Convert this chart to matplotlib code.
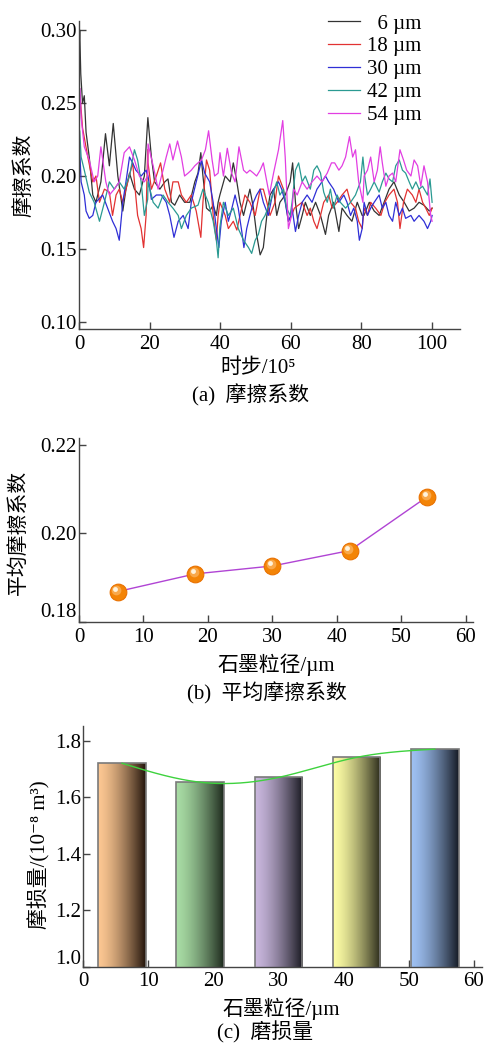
import numpy as np
import matplotlib
matplotlib.use('Agg')
import matplotlib.pyplot as plt
import matplotlib.transforms as mtransforms

plt.rcParams['font.family'] = ['Liberation Serif', 'DejaVu Serif', 'Noto Sans CJK SC']
plt.rcParams['font.size'] = 15
plt.rcParams['axes.unicode_minus'] = False

# ---------------- data: (a) friction coefficient vs time step ----------------
black_x = [0, 0.2, 0.5, 1.0, 1.5, 2.0, 2.9, 3.9, 4.8, 6.2, 7.5, 8.6, 9.7, 11.0, 12.4, 13.3, 14.3, 15.7, 17.1, 18.5, 19.5,
           20.5, 21.4, 22.9, 24.3, 25.2, 26.2, 27.1, 28.5, 29.9, 31.4, 32.8, 33.7, 34.5, 35.1, 36.1, 37.0, 38.0, 38.9, 39.4,
           39.9, 41.4, 42.8, 43.7, 44.7, 45.6, 46.6, 47.5, 48.4, 49.4, 50.3, 51.3, 52.2, 53.2, 54.1, 55.1, 56.0, 56.9, 58.4, 59.8,
           60.5, 61.3, 62.2, 63.2, 64.1, 65.5, 67.0, 68.4, 69.8, 70.7, 72.1, 73.6, 74.5, 75.9, 77.3, 78.8, 80.2,
           80.7, 82.2, 83.6, 85.0, 86.4, 87.8, 89.2, 90.7, 92.1, 93.5, 94.9, 96.3, 97.7, 99.2, 100]
black_y = [0.285, 0.300, 0.270, 0.250, 0.255, 0.230, 0.213, 0.187, 0.182, 0.196, 0.229, 0.207, 0.236, 0.200, 0.176, 0.191, 0.202, 0.191, 0.187, 0.200, 0.240,
           0.213, 0.196, 0.191, 0.196, 0.198, 0.182, 0.180, 0.187, 0.182, 0.182, 0.196, 0.202, 0.216, 0.200, 0.178, 0.176, 0.180, 0.173, 0.182,
           0.187, 0.200, 0.196, 0.209, 0.196, 0.182, 0.173, 0.182, 0.191, 0.178, 0.160, 0.146, 0.151, 0.173, 0.187, 0.191, 0.173, 0.182, 0.187, 0.196,
           0.209, 0.182, 0.164, 0.173, 0.182, 0.173, 0.182, 0.173, 0.160, 0.173, 0.182, 0.162, 0.178, 0.173, 0.169, 0.182, 0.173,
           0.173, 0.182, 0.176, 0.173, 0.182, 0.191, 0.196, 0.187, 0.182, 0.176, 0.178, 0.182, 0.180, 0.176, 0.178]

red_x = [0, 0.3, 1.0, 2.5, 3.9, 4.8, 5.8, 7.2, 8.6, 9.5, 10.5, 11.4, 12.4, 13.3, 15.2, 16.6, 17.6, 18.3, 19.0, 19.45,
         19.55, 20.5, 21.9, 23.1, 24.3, 25.7, 26.6, 28.1, 29.0, 30.4, 31.8, 33.2, 34.5, 35.1, 36.1, 37.0, 38.0, 38.9, 39.4,
         39.9, 41.4, 42.3, 43.7, 44.7, 45.6, 47.0, 48.4, 49.9, 51.3, 52.2, 53.2, 54.1, 55.5, 56.5, 57.9, 59.3, 60.2,
         61.0, 63.2, 64.6, 65.5, 66.5, 67.4, 68.4, 69.3, 70.7, 71.7, 73.1, 74.5, 75.9, 76.9, 78.3, 79.2, 80.2,
         80.74, 81.7, 82.6, 84.0, 85.5, 86.6, 87.8, 89.2, 90.2, 90.9, 91.9, 93.0, 94.4, 95.4, 96.3, 97.3, 98.2, 99.2, 100]
red_y = [0.235, 0.255, 0.233, 0.213, 0.196, 0.200, 0.182, 0.191, 0.189, 0.173, 0.187, 0.191, 0.182, 0.191, 0.209, 0.173, 0.164, 0.151, 0.173, 0.218,
         0.209, 0.191, 0.200, 0.209, 0.191, 0.182, 0.196, 0.196, 0.187, 0.182, 0.187, 0.176, 0.158, 0.182, 0.211, 0.204, 0.173, 0.156, 0.173,
         0.182, 0.173, 0.164, 0.169, 0.163, 0.173, 0.187, 0.182, 0.173, 0.191, 0.191, 0.182, 0.173, 0.182, 0.200, 0.191, 0.169, 0.173,
         0.178, 0.182, 0.173, 0.178, 0.169, 0.164, 0.173, 0.182, 0.187, 0.178, 0.182, 0.187, 0.191, 0.182, 0.178, 0.169, 0.164,
         0.178, 0.173, 0.182, 0.178, 0.173, 0.182, 0.187, 0.191, 0.182, 0.164, 0.182, 0.191, 0.187, 0.182, 0.191, 0.182, 0.178, 0.173, 0.178]

blue_x = [0, 0.2, 0.6, 1.5, 2.0, 2.9, 3.9, 4.8, 6.7, 8.1, 9.5, 10.5, 11.4, 12.4, 13.3, 14.3, 15.2, 16.1, 17.6, 19.0,
          19.55, 20.5, 21.9, 23.3, 24.7, 25.7, 26.9, 28.1, 29.5, 30.9, 31.8, 33.2, 34.7, 35.6, 37.0, 38.0, 38.9, 39.6,
          40.3, 41.4, 42.3, 43.3, 44.2, 45.1, 46.1, 46.7, 47.5, 48.4, 49.4, 50.3, 51.3, 52.2, 53.6, 55.1, 56.5, 57.4, 58.4, 59.3, 60.0,
          60.34, 61.3, 62.2, 63.2, 64.6, 66.0, 67.4, 68.8, 69.8, 70.7, 72.1, 73.6, 75.0, 75.9, 76.9, 77.8, 78.8, 79.4, 80.2,
          80.74, 81.7, 82.6, 83.6, 85.0, 85.9, 86.9, 87.8, 88.8, 89.7, 90.7, 91.6, 92.5, 94.0, 94.9, 96.3, 97.7, 98.7, 99.6, 100]
blue_y = [0.200, 0.218, 0.196, 0.187, 0.176, 0.171, 0.173, 0.182, 0.187, 0.178, 0.169, 0.164, 0.156, 0.182, 0.196, 0.213, 0.209, 0.204, 0.200, 0.204,
          0.200, 0.184, 0.187, 0.187, 0.182, 0.173, 0.158, 0.169, 0.173, 0.164, 0.182, 0.196, 0.211, 0.202, 0.196, 0.182, 0.164, 0.151,
          0.169, 0.182, 0.169, 0.178, 0.187, 0.178, 0.162, 0.151, 0.164, 0.173, 0.182, 0.187, 0.191, 0.182, 0.173, 0.191, 0.196, 0.191, 0.182, 0.169, 0.173,
          0.178, 0.162, 0.173, 0.182, 0.187, 0.182, 0.191, 0.196, 0.200, 0.196, 0.191, 0.182, 0.187, 0.182, 0.173, 0.178, 0.169, 0.156, 0.164,
          0.182, 0.173, 0.178, 0.182, 0.187, 0.178, 0.182, 0.173, 0.169, 0.182, 0.173, 0.178, 0.171, 0.173, 0.169, 0.173, 0.169, 0.164, 0.169, 0.173]

teal_x = [0, 0.2, 0.6, 1.5, 2.9, 4.3, 5.8, 7.2, 8.6, 10.0, 11.4, 12.8, 14.3, 15.7, 16.6, 17.6, 18.5, 19.45,
          19.55, 21.0, 22.4, 23.8, 25.2, 26.6, 28.1, 29.0, 30.4, 31.8, 33.7, 35.1, 36.6, 38.0, 38.9, 39.4,
          39.9, 40.9, 42.3, 43.7, 45.1, 46.6, 48.0, 48.9, 49.9, 50.8, 51.7, 52.7, 54.1, 55.1, 56.0, 56.9, 57.9, 58.8, 59.8,
          60.34, 61.3, 62.2, 63.2, 64.1, 65.5, 66.5, 67.4, 68.4, 69.3, 70.3, 71.2, 72.1, 73.1, 74.0, 75.5, 76.9, 78.3, 79.7, 80.4, 80.9,
          81.7, 82.6, 83.6, 85.0, 85.9, 86.9, 87.8, 88.8, 89.7, 90.7, 91.6, 92.5, 93.5, 94.4, 95.4, 96.3, 97.3, 98.7, 99.4, 100]
teal_y = [0.220, 0.231, 0.213, 0.204, 0.189, 0.182, 0.169, 0.182, 0.196, 0.191, 0.196, 0.191, 0.200, 0.218, 0.211, 0.196, 0.173, 0.184,
          0.196, 0.182, 0.178, 0.187, 0.182, 0.178, 0.173, 0.164, 0.173, 0.178, 0.180, 0.191, 0.182, 0.169, 0.156, 0.144,
          0.165, 0.182, 0.173, 0.178, 0.164, 0.156, 0.151, 0.147, 0.156, 0.160, 0.169, 0.173, 0.182, 0.189, 0.196, 0.187, 0.191, 0.178, 0.173,
          0.182, 0.204, 0.209, 0.196, 0.200, 0.191, 0.204, 0.207, 0.202, 0.189, 0.182, 0.191, 0.178, 0.187, 0.182, 0.178, 0.182, 0.187, 0.196, 0.213, 0.200,
          0.187, 0.191, 0.196, 0.189, 0.196, 0.202, 0.198, 0.196, 0.207, 0.211, 0.204, 0.202, 0.196, 0.191, 0.196, 0.191, 0.193, 0.187, 0.198, 0.182]

mag_x = [0, 0.3, 0.6, 1.5, 2.9, 4.3, 5.3, 6.2, 7.6, 8.6, 10.0, 11.4, 12.8, 14.3, 15.7, 17.1, 18.5, 19.45,
         19.55, 21.0, 22.4, 23.8, 24.7, 25.7, 26.6, 27.9, 29.0, 29.9, 30.9, 31.8, 32.8, 33.7, 34.7, 35.8, 36.7, 37.7, 38.4, 39.4,
         39.94, 40.9, 42.0, 43.2, 44.2, 45.3, 46.6, 47.5, 48.4, 49.4, 50.3, 51.3, 52.2, 53.2, 53.9, 55.1, 56.5, 57.7, 58.4, 59.3, 60.2,
         60.8, 61.8, 63.2, 64.6, 66.0, 67.4, 68.8, 70.3, 71.5, 72.4, 73.6, 74.5, 75.5, 76.6, 77.5, 78.3, 79.2, 80.4,
         80.74, 81.7, 82.6, 83.6, 84.5, 85.3, 85.9, 86.9, 87.8, 88.8, 89.7, 90.9, 91.9, 92.8, 94.0, 94.9, 95.9, 96.8, 97.7, 98.7, 99.6, 100]
mag_y = [0.240, 0.260, 0.240, 0.220, 0.211, 0.196, 0.200, 0.220, 0.196, 0.187, 0.191, 0.196, 0.216, 0.220, 0.211, 0.200, 0.196, 0.200,
         0.222, 0.207, 0.191, 0.204, 0.213, 0.222, 0.211, 0.224, 0.213, 0.200, 0.202, 0.204, 0.207, 0.209, 0.211, 0.218, 0.231, 0.211, 0.200, 0.202,
         0.216, 0.200, 0.219, 0.202, 0.196, 0.220, 0.204, 0.202, 0.204, 0.202, 0.200, 0.204, 0.209, 0.196, 0.187, 0.202, 0.218, 0.238, 0.213, 0.164, 0.173,
         0.191, 0.187, 0.196, 0.191, 0.196, 0.200, 0.196, 0.202, 0.209, 0.209, 0.204, 0.207, 0.213, 0.227, 0.213, 0.218, 0.196, 0.182,
         0.200, 0.204, 0.213, 0.196, 0.204, 0.220, 0.209, 0.193, 0.200, 0.202, 0.196, 0.218, 0.211, 0.204, 0.200, 0.211, 0.207, 0.193, 0.207, 0.196, 0.173, 0.169]

series_labels = ['  6 \u00b5m', '18 \u00b5m', '30 \u00b5m', '42 \u00b5m', '54 \u00b5m']
series_colors = ['#333333', '#e23232', '#2f2fd6', '#2a9a92', '#e23ee2']

# ---------------- data: (b) mean friction coefficient, (c) wear ----------------
grain_size = [6, 18, 30, 42, 54]
mean_friction = [0.1868, 0.1908, 0.1926, 0.1961, 0.2083]
wear_volume = [1.720, 1.653, 1.670, 1.741, 1.770]
bar_light = ['#fcc792', '#a8dca4', '#c8b6dc', '#fcfca4', '#9ec0f2']
bar_dark = ['#24150c', '#1e2a1e', '#1a1a22', '#2a2a1a', '#161c26']

W, H = 488, 1044
fig = plt.figure(figsize=(W / 100, H / 100), dpi=100)


def fx(px):
    return px / W


def fy(py):
    return 1 - py / H


def style_axes(ax):
    for s in ['top', 'right']:
        ax.spines[s].set_visible(False)
    for s in ['left', 'bottom']:
        ax.spines[s].set_color('#444444')
        ax.spines[s].set_linewidth(1.0)
    ax.tick_params(direction='in', length=5, width=1, color='#444444', labelsize=15)
    ax.tick_params(axis='y', pad=1.5)
    ax.tick_params(axis='x', pad=4)


def set_yticks_lifted(ax, values, labels, lift_px):
    # lowest label sits a little above its tick, as in the reference
    ax.set_yticks(values)
    ax.set_yticklabels([''] + labels[1:])
    ax.annotate(labels[0], xy=(0, values[0]), xycoords=('axes fraction', 'data'),
                xytext=(-2, lift_px), textcoords='offset pixels',
                ha='right', va='center', fontsize=15, annotation_clip=False)


# ---- (a) ----
ax1 = fig.add_axes([fx(79), fy(329), fx(460 - 79), (329 - 21) / H])
xs_all = [black_x, red_x, blue_x, teal_x, mag_x]
ys_all = [black_y, red_y, blue_y, teal_y, mag_y]
handles = []
for xs, ys, c, lab in zip(xs_all, ys_all, series_colors, series_labels):
    ln, = ax1.plot(xs, ys, color=c, lw=0.9, label=lab)
    handles.append(ln)
ax1.set_xlim(0, 107.9)
ax1.set_ylim(0.0952, 0.3062)
ax1.set_xticks([0, 20, 40, 60, 80, 100])
ax1.set_yticks([0.10, 0.15, 0.20, 0.25, 0.30])
ax1.set_yticklabels(['0.10', '0.15', '0.20', '0.25', '0.30'])
style_axes(ax1)
ax1.legend(handles=handles, loc='upper left', bbox_to_anchor=(fx(328), fy(14)),
           bbox_transform=fig.transFigure, frameon=False, fontsize=15,
           handlelength=1.55, handletextpad=0.3, labelspacing=0.16,
           borderpad=0, borderaxespad=0)
fig.text(fx(24), fy(175), '摩擦系数', rotation=90, ha='center', va='center', fontsize=15)
fig.text(fx(258), fy(368), '时步/10\u2075', ha='center', va='center', fontsize=15)
fig.text(fx(251), fy(395), '(a)  摩擦系数', ha='center', va='center', fontsize=15)

# ---- (b) ----
ax2 = fig.add_axes([fx(79), fy(622), fx(473 - 79), (622 - 438) / H])
ax2.plot(grain_size, mean_friction, color='#b044d4', lw=1.0, zorder=2)
ax2.plot(grain_size, mean_friction, 'o', ms=12, mfc='#f38406', mec='#e97100', mew=0.8, zorder=3)
hl1 = mtransforms.offset_copy(ax2.transData, fig=fig, x=-1.5, y=1.5, units='dots')
ax2.plot(grain_size, mean_friction, 'o', ms=7, mfc='#f9a84a', mec='none', transform=hl1, zorder=4)
hl2 = mtransforms.offset_copy(ax2.transData, fig=fig, x=-2.5, y=2.5, units='dots')
ax2.plot(grain_size, mean_friction, 'o', ms=3.5, mfc='#fff3dc', mec='none', transform=hl2, zorder=5)
ax2.set_xlim(0, 61.1)
ax2.set_ylim(0.1799, 0.2216)
ax2.set_xticks([0, 10, 20, 30, 40, 50, 60])
style_axes(ax2)
set_yticks_lifted(ax2, [0.18, 0.20, 0.22], ['0.18', '0.20', '0.22'], 9)
fig.text(fx(19), fy(532), '平均摩擦系数', rotation=90, ha='center', va='center', fontsize=15)
fig.text(fx(276), fy(665), '石墨粒径/\u00b5m', ha='center', va='center', fontsize=15)
fig.text(fx(267), fy(693), '(b)  平均摩擦系数', ha='center', va='center', fontsize=15)

# ---- (c) ----
ax3 = fig.add_axes([fx(83), fy(966.7), fx(481.7 - 83), (966.7 - 726) / H])
bars = ax3.bar(grain_size, wear_volume, width=7.3, facecolor='none',
               edgecolor='#7a7a7a', linewidth=1.2, zorder=3)
t = np.linspace(0, 1, 64)
for p, cl, cd in zip(bars.patches, bar_light, bar_dark):
    c1 = np.array(matplotlib.colors.to_rgb(cl))
    c2 = np.array(matplotlib.colors.to_rgb(cd))
    w = t ** 1.45
    grad = (1 - w)[:, None] * c1[None, :] + w[:, None] * c2[None, :]
    ax3.imshow(grad[None, :, :], extent=(p.get_x(), p.get_x() + p.get_width(), p.get_y(), p.get_y() + p.get_height()),
               aspect='auto', interpolation='bilinear', zorder=2)


def natural_spline(x, y, xs):
    x = np.asarray(x, float)
    y = np.asarray(y, float)
    n = len(x)
    h = np.diff(x)
    A = np.zeros((n, n))
    r = np.zeros(n)
    A[0, 0] = A[-1, -1] = 1
    for i in range(1, n - 1):
        A[i, i - 1] = h[i - 1]
        A[i, i] = 2 * (h[i - 1] + h[i])
        A[i, i + 1] = h[i]
        r[i] = 3 * ((y[i + 1] - y[i]) / h[i] - (y[i] - y[i - 1]) / h[i - 1])
    c = np.linalg.solve(A, r)
    b = (y[1:] - y[:-1]) / h - h * (2 * c[:-1] + c[1:]) / 3
    d = (c[1:] - c[:-1]) / (3 * h)
    idx = np.clip(np.searchsorted(x, xs) - 1, 0, n - 2)
    dx = xs - x[idx]
    return y[idx] + b[idx] * dx + c[idx] * dx ** 2 + d[idx] * dx ** 3


xs_fit = np.linspace(grain_size[0], grain_size[-1], 300)
ax3.plot(xs_fit, natural_spline(grain_size, wear_volume, xs_fit), color='#3ed23e', lw=1.0, zorder=4)
ax3.set_xlim(0, 61.2)
ax3.set_ylim(1.0, 1.852)
ax3.set_xticks([0, 10, 20, 30, 40, 50, 60])
style_axes(ax3)
set_yticks_lifted(ax3, [1.0, 1.2, 1.4, 1.6, 1.8], ['1.0', '1.2', '1.4', '1.6', '1.8'], 7)
fig.text(fx(39), fy(855), '摩损量/(10\u207b\u2078 m\u00b3)', rotation=90, ha='center', va='center', fontsize=15)
fig.text(fx(281), fy(1009), '石墨粒径/\u00b5m', ha='center', va='center', fontsize=15)
fig.text(fx(265), fy(1032), '(c)  磨损量', ha='center', va='center', fontsize=15)

fig.savefig('out.png', dpi=100)
